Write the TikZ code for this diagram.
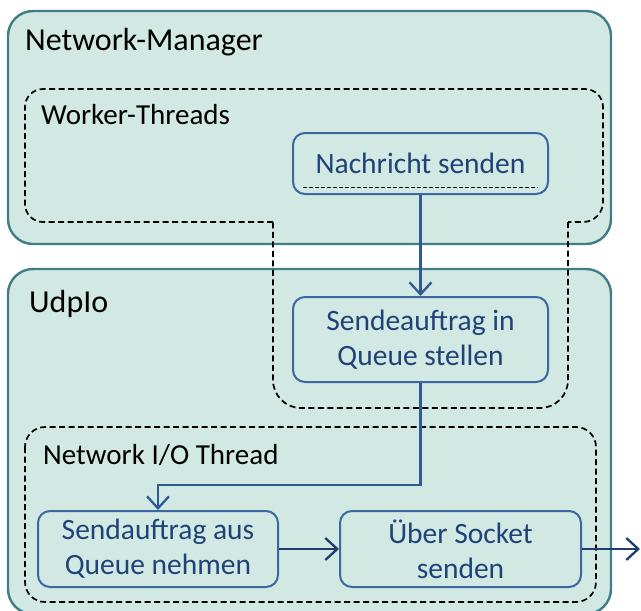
\documentclass[tikz,border=0pt]{standalone}
\usepackage{fontspec}
\setmainfont{Carlito}
\usetikzlibrary{arrows.meta,calc}
\definecolor{panelfill}{HTML}{D2E9E3}
\definecolor{panelline}{HTML}{3F7D88}
\definecolor{stepline}{HTML}{3C68A2}
\definecolor{steptext}{HTML}{1F4378}
\definecolor{flowline}{HTML}{2F5A96}
\definecolor{flowdark}{HTML}{1F3C6C}

\begin{document}
\begin{tikzpicture}[x=1pt,y=-1pt,
  panel/.style={draw=panelline,line width=2.4pt,fill=panelfill,rounded corners=25pt},
  threadline/.style={draw=black,line width=1.7pt,dash pattern=on 6pt off 3.5pt},
  stepbox/.style={draw=stepline,line width=2pt,rounded corners=12pt,align=center,
    text=steptext,font=\fontsize{29.5}{35}\selectfont,inner sep=0pt},
  biglabel/.style={anchor=base west,inner sep=0pt,font=\fontsize{32}{38}\selectfont},
  smalllabel/.style={anchor=base west,inner sep=0pt,font=\fontsize{29}{34}\selectfont},
  flow/.style={draw=flowline,line width=2.3pt,-{Straight Barb[length=12pt,width=22pt]}},
  flowdk/.style={flow,draw=flowdark}
]
\useasboundingbox (0,0) rectangle (641,611);
\clip (0,0) rectangle (641,611);

% component panels
\path[panel] (8,11) rectangle (611,244);
\path[panel] (8,269) rectangle (611,614);

\node[biglabel] (nmlabel) at (25,50) {Network-Manager};
\node[biglabel] (udplabel) at (29,312) {UdpIo};

% thread regions
\draw[threadline,rounded corners=18pt] (273,222) -- (25,222) -- (25,89) -- (603,89) -- (603,150);
\draw[threadline,rounded corners=20pt] (603,150) -- (603,222) -- (568,222);
\draw[threadline,rounded corners=28pt] (568,222) -- (568,408) -- (273,408) -- (273,222);
\draw[threadline,rounded corners=20pt] (25,427) rectangle (596,602);

\node[smalllabel] (wtlabel) at (41,124) {Worker-Threads};
\node[smalllabel] (niolabel) at (43,464) {Network I/O Thread};

% processing steps
\node[stepbox,minimum width=255pt,minimum height=61pt] (ns) at (420.5,163.5) {Nachricht senden};
\node[stepbox,minimum width=255pt,minimum height=85pt] (sq) at (420.5,339.5) {Sendeauftrag in\\Queue stellen};
\node[stepbox,minimum width=240pt,minimum height=76pt] (sa) at (158,549) {Sendauftrag aus\\Queue nehmen};
\node[stepbox,minimum width=241pt,minimum height=76pt] (us) at (460.5,549) {Über Socket\\senden};

\draw[black,line width=0.8pt,dash pattern=on 4pt off 2pt]
  ($(ns.south west)+(11,-8)$) -- ($(ns.south east)+(-11,-8)$);

% message flow
\coordinate (jog) at (158,485);
\coordinate (exit) at (640,549);
\draw[flow] (ns) -- (sq);
\draw[flow] (sq.south) |- (jog) -- (sa.north);
\draw[flowdk] (sa) -- (us);
\draw[flowdk] (us) -- (exit);
\end{tikzpicture}
\end{document}
